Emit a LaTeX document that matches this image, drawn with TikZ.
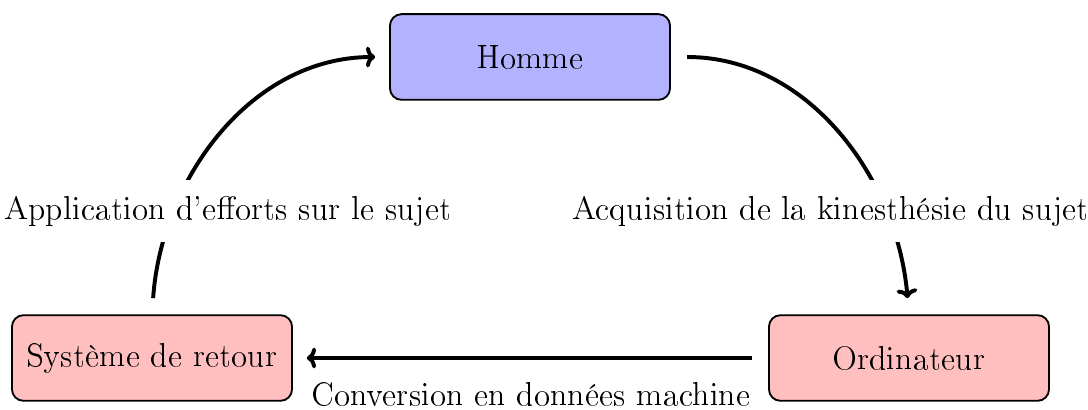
\documentclass[tikz,border=0pt]{standalone}
\usepackage[T1]{fontenc}
\usetikzlibrary{arrows.meta}
\begin{document}
\begin{tikzpicture}[x=0.432pt,y=-0.432pt,
  txt/.style={font=\fontsize{13.4}{16}\selectfont},
  box/.style={txt,draw=black,line width=0.8pt,rounded corners=5pt,minimum width=121pt,minimum height=37pt},
  flow/.style={line width=1.7pt,-{To[length=4pt,width=9pt]}},
  lab/.style={txt,fill=white,inner sep=7pt}]
\useasboundingbox (0,0) rectangle (1088,410);
\node[box,fill=blue!30] (h) at (530,57) {Homme};
\node[box,fill=red!25] (s) at (152,358) {Syst\`eme de retour};
\node[box,fill=red!25] (o) at (909,358) {Ordinateur};
\draw[flow,shorten <=7pt,shorten >=6pt] (s.north) to[out=86,in=180] (h.west);
\draw[flow,shorten <=7pt,shorten >=7pt] (h.east) to[out=0,in=95] (o.north);
\draw[flow,shorten <=7pt,shorten >=6pt] (o.west) -- (s.east);
\node[lab] (la) at (228,211) {Application d'efforts sur le sujet};
\node[lab] (lb) at (831,211) {Acquisition de la kinesth\'esie du sujet};
\node[txt] (lc) at (531,394) {Conversion en donn\'ees machine};
\end{tikzpicture}
\end{document}
